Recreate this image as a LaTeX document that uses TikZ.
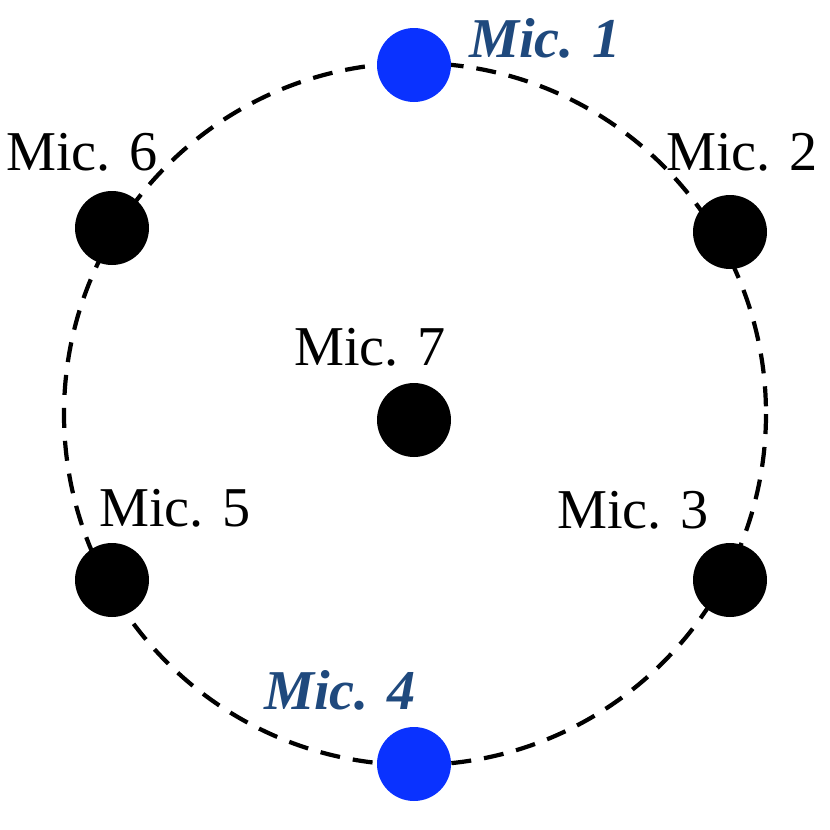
\documentclass[tikz,border=0pt]{standalone}
\usepackage{fontspec}
\setmainfont{Liberation Serif}
\definecolor{micblue}{HTML}{0A32FF}
\definecolor{labblue}{HTML}{1F497D}
\begin{document}
\begin{tikzpicture}[x=0.1mm,y=-0.1mm,
    mic node/.style={circle,fill=black,minimum size=7.4mm,inner sep=0pt},
    ref node/.style={mic node,fill=micblue},
    mic label/.style={font=\fontsize{16}{18}\selectfont},
    ref label/.style={font=\fontsize{16}{18}\selectfont\bfseries\itshape,text=labblue}]
    \useasboundingbox (0,0) rectangle (830,830);
    \draw[line width=1.2pt,dash pattern=on 2mm off 1.3mm] (415,414) circle (351);

    \node[ref node] at (414,65) (m1) {};
    \node[mic node] at (730,232) (m2) {};
    \node[mic node] at (730,580) (m3) {};
    \node[ref node] at (414,764) (m4) {};
    \node[mic node] at (112,580) (m5) {};
    \node[mic node] at (112,228) (m6) {};
    \node[mic node] at (414,420) (m7) {};

    \node[ref label] at (545,38) (l1) {Mic. 1};
    \node[mic label] at (742,152) (l2) {Mic. 2};
    \node[mic label] at (633,510) (l3) {Mic. 3};
    \node[ref label] at (340,690) (l4) {Mic. 4};
    \node[mic label] at (175,508) (l5) {Mic. 5};
    \node[mic label] at (82,152) (l6) {Mic. 6};
    \node[mic label] at (370,347) (l7) {Mic. 7};
\end{tikzpicture}
\end{document}
